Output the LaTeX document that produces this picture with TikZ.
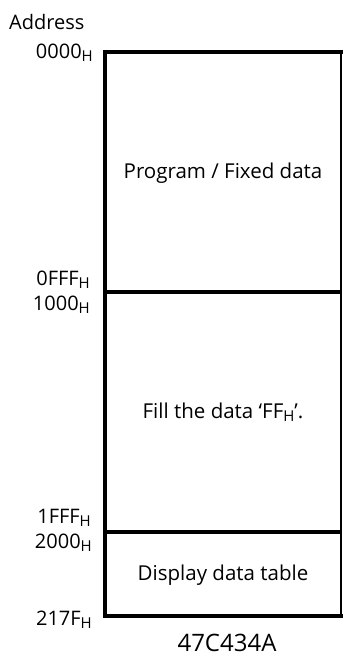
\documentclass[tikz,border=0pt]{standalone}
\usepackage{fontspec}
\setmainfont{Open Sans}
\newcommand{\hsub}{\raisebox{-0.35ex}{\fontsize{15}{15}\selectfont H}}
\begin{document}
\begin{tikzpicture}[x=1pt,y=-1pt,
  lbl/.style={anchor=base east,font=\fontsize{20}{22}\selectfont,inner sep=0pt},
  txt/.style={anchor=base,font=\fontsize{20.5}{23}\selectfont,inner sep=0pt},
  thick border/.style={line width=3.6pt},
  thin border/.style={line width=2.2pt}]
\useasboundingbox (0,0) rectangle (343,656);
\coordinate (tl) at (105,52);
\coordinate (tr) at (341,52);
\coordinate (bl) at (105,616);
\coordinate (br) at (341,616);
\coordinate (s1l) at (105,292); \coordinate (s1r) at (341,292);
\coordinate (s2l) at (105,532); \coordinate (s2r) at (341,532);
\draw[thin border] (tr) -- (br);
\draw[thick border,line cap=rect] (tr) -- (tl) -- (bl) -- (br);
\draw[thick border] (s1l) -- (s1r);
\draw[thick border] (s2l) -- (s2r);
\node[anchor=base west,font=\fontsize{20}{22}\selectfont,inner sep=0pt] (addr) at (9,29) {Address};
\node[lbl] (a0) at (93,58) {0000\hsub};
\node[lbl] (a1) at (90,285) {0FFF\hsub};
\node[lbl] (a2) at (90,310) {1000\hsub};
\node[lbl] (a3) at (91,523) {1FFF\hsub};
\node[lbl] (a4) at (92,548) {2000\hsub};
\node[lbl] (a5) at (92,625) {217F\hsub};
\node[txt] (p) at (223,178) {Program / Fixed data};
\node[txt] (f) at (223,418) {Fill the data ‘FF\hsub’.};
\node[txt] (d) at (223,580) {Display data table};
\node[anchor=base,font=\fontsize{24}{26}\selectfont,inner sep=0pt] (chip) at (227,651) {47C434A};
\end{tikzpicture}
\end{document}
